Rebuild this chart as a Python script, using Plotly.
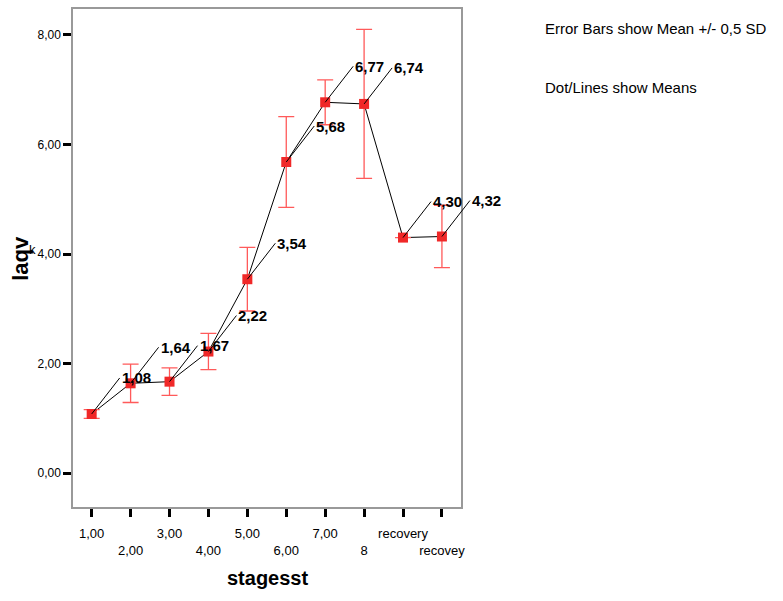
import plotly.graph_objects as go

categories = ["1,00", "2,00", "3,00", "4,00", "5,00", "6,00", "7,00", "8", "recovery", "recovey"]
means = [1.08, 1.64, 1.67, 2.22, 3.54, 5.68, 6.77, 6.74, 4.30, 4.32]
half_sd = [0.08, 0.35, 0.25, 0.33, 0.58, 0.83, 0.41, 1.36, None, 0.57]
y_ticks = [0, 2, 4, 6, 8]
y_tick_labels = ["0,00", "2,00", "4,00", "6,00", "8,00"]
x_tick_labels = [c if i % 2 == 0 else "<br>" + c for i, c in enumerate(categories)]
value_labels = [f"{v:.2f}".replace(".", ",") for v in means]

FONT = "Liberation Sans, Arial, sans-serif"

fig = go.Figure()
fig.add_trace(go.Scatter(
    x=categories, y=means, mode="lines",
    line=dict(color="black", width=1), showlegend=False, hoverinfo="skip"))
fig.add_trace(go.Scatter(
    x=categories, y=means, mode="markers",
    marker=dict(symbol="square", size=10, color="rgb(240,40,40)", line=dict(width=0)),
    error_y=dict(type="data", array=half_sd, symmetric=True,
                 color="rgb(255,90,90)", thickness=1.3, width=8),
    showlegend=False))

for i, (m, t) in enumerate(zip(means, value_labels)):
    fig.add_annotation(x=i, y=m, text=f"<b>{t}</b>", showarrow=True, arrowhead=0,
                       arrowwidth=1, arrowcolor="black", ax=28, ay=-36,
                       xanchor="left", yanchor="middle",
                       font=dict(family=FONT, size=15, color="black"))

fig.add_annotation(xref="paper", yref="paper", x=1.212, y=0.96, xanchor="left", yanchor="middle",
                   text="Error Bars show Mean +/- 0,5 SD", showarrow=False,
                   font=dict(family=FONT, size=15, color="black"))
fig.add_annotation(xref="paper", yref="paper", x=1.212, y=0.842, xanchor="left", yanchor="middle",
                   text="Dot/Lines show Means", showarrow=False,
                   font=dict(family=FONT, size=15, color="black"))
fig.add_annotation(xref="paper", yref="paper", x=-0.137, y=0.5, xanchor="center", yanchor="middle",
                   text="<b>laqv</b>", textangle=-90, showarrow=False,
                   font=dict(family=FONT, size=22, color="black"))
fig.add_annotation(xref="paper", yref="paper", x=-0.105, y=0.518, xanchor="center", yanchor="middle",
                   text="k", showarrow=False,
                   font=dict(family=FONT, size=13, color="black"))
fig.add_annotation(xref="paper", yref="paper", x=0.5, y=-0.142, xanchor="center", yanchor="middle",
                   text="<b>stagesst</b>", showarrow=False,
                   font=dict(family=FONT, size=20, color="black"))

fig.update_xaxes(type="category", range=[-0.48, 9.49], tickvals=categories, ticktext=x_tick_labels,
                 tickangle=0, ticklabelstandoff=6,
                 ticks="outside", ticklen=8, tickwidth=3, tickcolor="black",
                 showline=True, linecolor="#999999", linewidth=1.5, mirror=True,
                 showgrid=False, zeroline=False,
                 tickfont=dict(family=FONT, size=13, color="black"))
fig.update_yaxes(range=[-0.618, 8.473], tickvals=y_ticks, ticktext=y_tick_labels,
                 ticks="outside", ticklen=8, tickwidth=3, tickcolor="black",
                 showline=True, linecolor="#999999", linewidth=1.5, mirror=True,
                 showgrid=False, zeroline=False,
                 tickfont=dict(family=FONT, size=12, color="black"))

fig.update_layout(width=783, height=601, margin=dict(l=73, r=322, t=7, b=94),
                  plot_bgcolor="white", paper_bgcolor="white")
fig.write_html("out.html", config={"displayModeBar": False},
               post_script="document.body.style.margin='0';")
